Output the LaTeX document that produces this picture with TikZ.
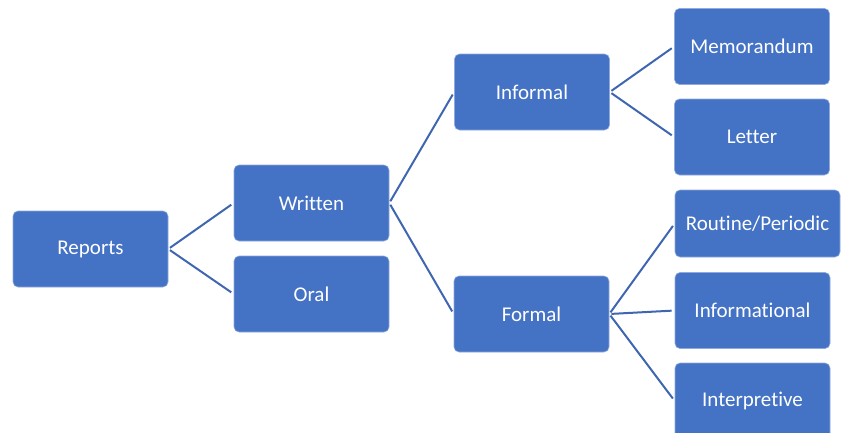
\documentclass[tikz,border=0pt]{standalone}
\usepackage{fontspec}
\setmainfont{Carlito}[Ligatures={NoCommon}]
\definecolor{boxblue}{HTML}{4472C4}
\definecolor{lineblue}{HTML}{3F67B1}
\tikzset{
  box/.style={fill=boxblue, draw=boxblue!60!white, line width=0.6pt,
    rounded corners=5pt, text=white, font=\fontsize{21}{25}\selectfont,
    minimum width=155pt, minimum height=76pt, inner sep=0pt},
  link/.style={draw=lineblue, line width=2pt, shorten <=2pt, shorten >=3pt}
}
\begin{document}
\begin{tikzpicture}[x=1pt,y=-1pt]
  \useasboundingbox (0,0) rectangle (846,432);
  \clip (0,0) rectangle (846,432);

  % levels
  \node[box] (reports) at (90.5,249) {Reports};
  \node[box] (written) at (311.5,203) {Written};
  \node[box] (oral) at (311.5,294) {Oral};
  \node[box] (informal) at (532,92) {Informal};
  \node[box] (formal) at (531.5,314) {Formal};
  \node[box] (memo) at (752,46.5) {Memorandum};
  \node[box] (letter) at (752,137) {Letter};
  \node[box, minimum width=165pt, minimum height=67pt] (routine) at (757.5,223.5) {Routine/Periodic};
  \node[box] (inform) at (752.5,310.5) {Informational};
  \node[box] (interp) at (752.5,401) {Interpretive};

  % connectors
  \foreach \a/\b in {reports/written, reports/oral, written/informal, written/formal,
    informal/memo, informal/letter, formal/routine, formal/inform, formal/interp}
    \draw[link] (\a.east) -- (\b.west);
\end{tikzpicture}
\end{document}
